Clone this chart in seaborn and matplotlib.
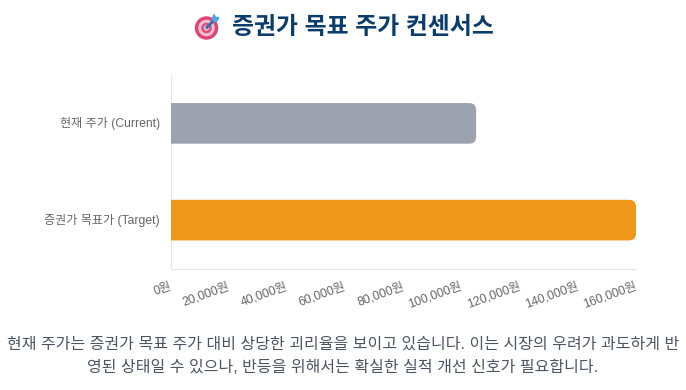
import pandas as pd
import seaborn as sns
import matplotlib.pyplot as plt
from matplotlib.patches import Circle, PathPatch, Polygon
from matplotlib.path import Path
from matplotlib.transforms import ScaledTranslation

# Chart values
labels = ['현재 주가 (Current)', '증권가 목표가 (Target)']
prices = [105000, 160000]
bar_colors = ['#9CA3AF', '#F0981A']
tick_values = [0, 20000, 40000, 60000, 80000, 100000, 120000, 140000, 160000]
tick_labels = ['0원', '20,000원', '40,000원', '60,000원', '80,000원', '100,000원', '120,000원', '140,000원', '160,000원']
title = '증권가 목표 주가 컨센서스'
caption_1 = '현재 주가는 증권가 목표 주가 대비 상당한 괴리율을 보이고 있습니다. 이는 시장의 우려가 과도하게 반'
caption_2 = '영된 상태일 수 있으나, 반등을 위해서는 확실한 실적 개선 신호가 필요합니다.'

W, H = 686, 390

sns.set_theme(style='white')
plt.rcParams['font.family'] = ['Liberation Sans', 'Noto Sans CJK KR']

df = pd.DataFrame({'label': labels, 'price': prices})

fig = plt.figure(figsize=(W / 100, H / 100), dpi=100)
ax = fig.add_axes([171 / W, 1 - 268.5 / H, 465 / W, 193.5 / H])
sns.barplot(data=df, y='label', x='price', hue='label', palette=bar_colors, legend=False,
            width=0.42, saturation=1, ax=ax)

ax.set_xlim(0, 160000)
ax.set_ylim(1.5, -0.5)
ax.set_xlabel('')
ax.set_ylabel('')
ax.set_xticks(tick_values)
ax.set_xticklabels(tick_labels, rotation=20, ha='right', rotation_mode='anchor', fontsize=8.9, color='#666666')
ax.tick_params(axis='x', length=0, pad=8.5)
ax.tick_params(axis='y', length=0, pad=8, labelsize=8.7, labelcolor='#666666')

# tick labels end a little left of the tick, y labels sit a little higher
for t in ax.get_xticklabels():
    t.set_transform(t.get_transform() + ScaledTranslation(-2 / 100, 0, fig.dpi_scale_trans))
for t in ax.get_yticklabels():
    t.set_transform(t.get_transform() + ScaledTranslation(0, 1.5 / 100, fig.dpi_scale_trans))

for side in ['top', 'right']:
    ax.spines[side].set_visible(False)
for side in ['left', 'bottom']:
    ax.spines[side].set_color('#E5E5E5')
    ax.spines[side].set_linewidth(0.8)

# swap the square bars for ones with rounded right corners
rx = 7 * 160000 / 465
ry = 7 * 2 / 193.5
for bar in list(ax.patches):
    x0, y0 = bar.get_x(), bar.get_y()
    x1, y1 = x0 + bar.get_width(), y0 + bar.get_height()
    verts = [(x0, y0), (x1 - rx, y0), (x1, y0), (x1, y0 + ry), (x1, y1 - ry), (x1, y1), (x1 - rx, y1), (x0, y1), (x0, y0)]
    codes = [Path.MOVETO, Path.LINETO, Path.CURVE3, Path.CURVE3, Path.LINETO, Path.CURVE3, Path.CURVE3, Path.LINETO, Path.CLOSEPOLY]
    ax.add_patch(PathPatch(Path(verts, codes), facecolor=bar.get_facecolor(), edgecolor='none', zorder=3))
    bar.set_visible(False)

fig.text(362.5 / W, 1 - 27.5 / H, title, ha='center', va='center', fontsize=17.2, fontweight='bold', color='#0A3D6B')
fig.text(343 / W, 1 - 344.5 / H, caption_1, ha='center', va='center', fontsize=11.53, color='#4B5563')
fig.text(343 / W, 1 - 367.5 / H, caption_2, ha='center', va='center', fontsize=11.53, color='#4B5563')

# target emoji, no colour emoji font available
icon = fig.add_axes([190 / W, 1 - 42 / H, 32 / W, 32 / H])
icon.set_xlim(0, 32)
icon.set_ylim(32, 0)
icon.axis('off')
icon.add_patch(Circle((16.5, 18), 11, color='#E0446F'))
icon.add_patch(Circle((16.5, 18), 7.6, color='#F3BBD0'))
icon.add_patch(Circle((16.5, 18), 4.6, color='#D9517F'))
icon.add_patch(Circle((16.5, 18), 2, color='#F3BBD0'))
icon.add_patch(Polygon([(16, 17.5), (24, 9), (25, 10), (17, 18.5)], color='#2F6FB0'))
icon.add_patch(Polygon([(22, 9.5), (24, 4.5), (25.5, 7.5), (29, 7.5), (26, 12)], color='#4FA6E8'))

fig.savefig('out.png', dpi=100)
